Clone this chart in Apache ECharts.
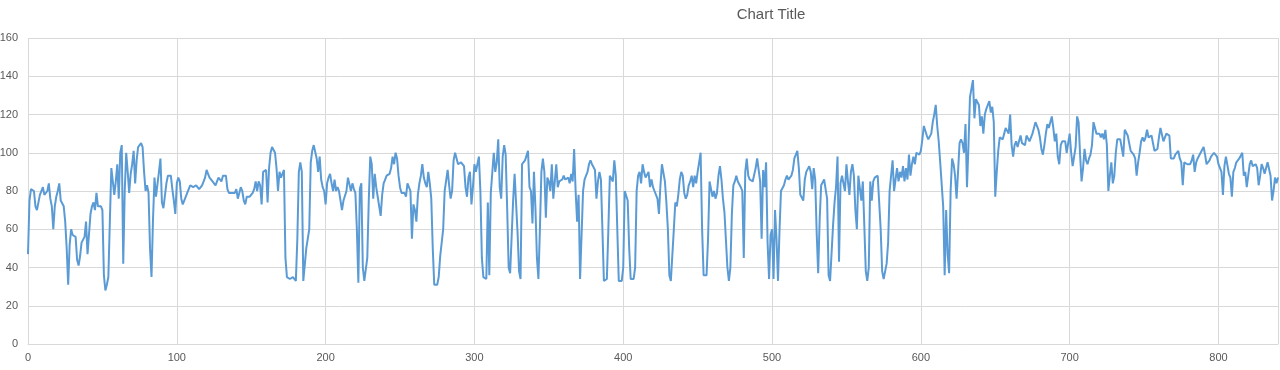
<!DOCTYPE html>
<html>
<head>
<meta charset="utf-8">
<script src="https://cdn.jsdelivr.net/npm/echarts@6/dist/echarts.min.js"></script>
<style>
html,body{margin:0;padding:0;background:#fff;}
#chart{width:1280px;height:370px;}
</style>
</head>
<body>
<div id="chart"></div>
<script>
// Series values, index 0..840
const valuesA = [
47,75,81,82,80,72,70,71,78,79,
82,78,77,80,84,76,72,60,72,77,
80,84,75,76,72,64,50,31,52,60,
57,57,56,44,41,46,53,54,56,64,
47,47,68,72,74,70,79,72,73,72,
70,36,28,31,35,64,92,91,78,85,
94,76,100,104,42,80,100,90,79,89,
94,101,84,96,103,104,105,103,90,80,
83,79,50,35,65,87,77,76,90,97,
74,71,72,84,88,89,88,81,75,68,
84,87,85,76,73,75,76,79,81,83,
84,82,81,83,82,81,82,83,84,87,
91,89,87,86,85,84,83,84,87,88,
85,88,89,88,81,79,79,79,80,79,
81,76,79,82,80,75,73,77,76,77,
77,79,81,85,80,85,83,73,90,90,
91,74,92,100,103,102,100,92,80,90,
87,88,91,45,35,34,34,33,35,35,
33,55,90,95,90,33,34,50,49,60,
95,101,104,104,97,90,98,86,82,80,
73,84,87,89,84,80,86,80,82,80
];
const valuesB = [
80,70,75,74,80,87,86,80,84,81,
79,60,32,81,84,40,33,33,45,75,
98,94,76,89,82,77,72,67,78,84,
86,88,88,89,92,98,94,100,97,88,
82,79,79,79,77,84,85,80,55,73,
70,64,78,84,88,94,87,84,82,90,
84,76,50,31,31,31,35,46,46,60,
80,81,91,83,76,80,96,100,97,94,
93,95,96,93,82,77,87,90,73,82,
94,90,94,98,80,45,35,34,34,74,
36,79,80,100,90,95,107,82,76,98,
104,99,71,40,37,36,75,89,90,58,
38,34,94,95,96,96,101,82,80,63,
90,71,45,34,60,90,97,90,66,87,
85,80,94,76,76,94,82,85,85,86,
88,86,86,87,84,89,85,102,80,64,
78,34,35,80,86,88,90,94,96,94,
95,91,76,85,90,86,60,33,34,34,
60,88,88,85,96,88,60,33,33,33,
40,80,80,75,50,34,34,34,40,80,
88,90,84,94,90,87,87,90,82,86
];
const valuesC = [
82,80,80,76,68,83,94,94,85,74,
60,36,33,33,60,74,72,78,86,90,
88,79,76,78,83,85,88,82,88,84,
90,95,100,60,36,35,36,55,85,84,
77,80,76,79,88,93,86,76,69,70,
40,33,40,68,83,85,88,85,84,82,
80,45,90,97,88,86,86,85,84,92,
97,98,85,55,91,82,95,53,34,57,
60,34,70,55,33,59,80,81,83,86,
88,86,86,88,91,97,98,101,92,78,
77,75,86,90,91,93,90,81,92,86,
58,37,65,83,84,86,81,76,36,33,
33,62,74,82,98,43,84,88,87,80,
94,85,78,90,94,88,70,60,88,88,
75,85,62,38,33,40,85,75,85,87,
88,88,88,60,38,34,34,42,53,80,
81,96,80,86,92,85,90,87,93,85,
92,86,99,88,94,98,94,100,101,99,
101,107,114,113,109,107,106,110,116,120,
125,114,106,95,94,72,36,70,47,37,
80,97,94,88,76,90,105,107,105,100
];
const valuesD = [
115,82,104,129,128,138,118,128,128,125,
114,119,110,120,123,122,127,121,124,116,
77,90,101,108,108,107,110,113,114,110,
120,104,98,104,106,103,106,109,105,106,
104,109,108,106,107,110,113,116,114,112,
108,102,99,104,110,115,113,116,119,113,
106,110,98,94,104,106,106,106,100,105,
110,100,93,92,103,119,116,99,85,92,
102,96,94,97,99,104,116,115,110,111,
110,108,110,107,112,104,80,88,95,84,
88,100,107,108,107,108,98,112,113,109,
105,101,100,99,97,88,95,100,106,108,
106,108,112,108,108,109,108,101,100,102,
108,113,112,106,107,110,111,109,97,98,
97,99,100,101,97,95,83,95,94,94,
94,94,96,99,90,95,97,98,100,101,
103,99,94,93,96,98,99,100,100,98,
94,95,90,78,93,98,99,89,87,77,
90,92,95,94,97,98,100,88,90,82,
88,94,96,93,93,94,92,83,88,94,
92,89,92,95,96,88,75,80,87,84,
87
];
const yTicks = [0, 20, 40, 60, 80, 100, 120, 140, 160];
const xTicks = [0, 100, 200, 300, 400, 500, 600, 700, 800];
const titleText = 'Chart Title';

const values = valuesA.concat(valuesB, valuesC, valuesD);
const seriesData = values.map((v, i) => [i, v]);

const chart = echarts.init(document.getElementById('chart'), null, {renderer: 'canvas'});
chart.setOption({
  animation: false,
  backgroundColor: '#ffffff',
  title: {
    text: titleText,
    left: 766,
    textAlign: 'center',
    top: 2,
    textStyle: {color: '#595959', fontSize: 15, fontWeight: 'normal', fontFamily: 'Liberation Sans, Arial, sans-serif'}
  },
  grid: {left: 28, right: 2, top: 38, bottom: 26, containLabel: false, outerBoundsMode: 'none'},
  xAxis: {
    type: 'value',
    min: xTicks[0],
    max: 840,
    interval: xTicks[1] - xTicks[0],
    axisLine: {show: true, lineStyle: {color: '#d9d9d9', width: 1}},
    axisTick: {show: false},
    axisLabel: {
      color: '#595959', fontSize: 11, fontFamily: 'Liberation Sans, Arial, sans-serif', margin: 8,
      formatter: v => (xTicks.indexOf(v) >= 0 ? String(v) : '')
    },
    splitLine: {show: true, lineStyle: {color: '#d9d9d9', width: 1}}
  },
  yAxis: {
    type: 'value',
    min: yTicks[0],
    max: yTicks[yTicks.length - 1],
    interval: yTicks[1] - yTicks[0],
    axisLine: {show: false},
    axisTick: {show: false},
    axisLabel: {color: '#595959', fontSize: 11, fontFamily: 'Liberation Sans, Arial, sans-serif', margin: 10},
    splitLine: {show: true, lineStyle: {color: '#d9d9d9', width: 1}}
  },
  series: [{
    type: 'line',
    data: seriesData,
    showSymbol: false,
    symbol: 'none',
    lineStyle: {color: '#5b9bd5', width: 2},
    itemStyle: {color: '#5b9bd5'}
  }]
});
</script>
</body>
</html>
